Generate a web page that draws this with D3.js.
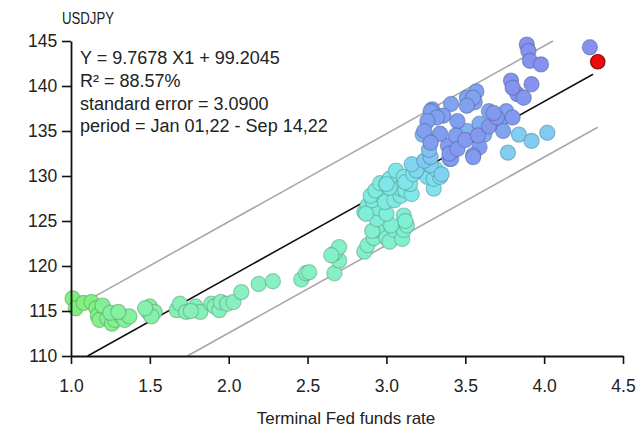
<!DOCTYPE html>
<html>
<head>
<meta charset="utf-8">
<script src="https://cdn.jsdelivr.net/npm/d3@7"></script>
<style>
  body { margin: 0; background: #fff; }
  svg { display: block; font-family: "Liberation Sans", Arial, sans-serif; }
</style>
</head>
<body>
<svg id="chart" width="641" height="433"></svg>
<script>
// USDJPY vs terminal Fed funds rate, daily, Jan-Sep 2022

var xTicks = [1.0, 1.5, 2.0, 2.5, 3.0, 3.5, 4.0, 4.5],
    yTicks = [110, 115, 120, 125, 130, 135, 140, 145];

// regression stats shown in the box
var slope = 9.7678, intercept = 99.2045, stdErr = 3.09;
var statLines = [
  "Y = 9.7678 X1 + 99.2045",
  "R\u00b2 = 88.57%",
  "standard error = 3.0900",
  "period = Jan 01,22 - Sep 14,22"
];

// [fed funds terminal rate, usdjpy, day of year]
var points = [
  [1.01,116.4,3],[1.03,115.3,5],[1.08,115.9,7],[1.13,116.0,10],[1.16,115.3,12],[1.17,114.5,14],
  [1.18,114.0,18],[1.23,114.2,20],[1.26,113.6,24],[1.28,114.0,26],[1.20,115.6,28],
  [1.32,114.4,33],[1.34,114.0,35],[1.37,114.4,38],[1.25,114.8,40],[1.30,114.9,42],[1.49,114.9,45],
  [1.50,115.5,47],[1.53,114.9,49],[1.51,114.4,52],[1.47,115.3,55],
  [1.67,115.1,60],[1.69,115.8,62],[1.73,114.9,63],[1.79,115.5,64],[1.82,114.9,66],[1.76,115.0,67],
  [1.89,115.8,69],[1.91,115.5,70],[1.94,115.1,71],[1.95,116.0,73],[1.99,115.8,74],[2.03,116.0,75],
  [2.08,117.1,76],
  [2.19,118.0,77],[2.28,118.3,78],[2.46,118.5,81],[2.49,119.2,82],[2.51,119.3,83],[2.67,119.2,84],
  [2.70,120.6,85],[2.67,121.4,87],[2.70,122.1,88],[2.65,121.2,89],
  [2.86,121.6,91],[2.88,122.3,92],[2.92,123.1,95],[2.94,124.0,96],[2.91,123.9,97],[3.00,123.1,98],
  [3.02,122.7,99],[3.05,124.0,102],[3.10,123.0,103],[3.11,124.0,104],[3.13,124.5,105],[3.11,125.6,106],
  [3.03,124.5,109],[3.12,125.0,110],[2.86,126.0,111],[2.88,126.7,112],[2.94,125.2,113],[2.95,126.4,116],
  [3.00,125.8,117],[2.87,125.8,118],[2.91,127.3,119],[2.94,128.0,120],
  [2.90,127.8,123],[2.93,128.4,124],[2.96,129.2,125],[3.00,129.1,126],[3.02,129.7,127],[2.99,127.1,130],
  [3.05,127.3,131],[3.09,127.8,132],[3.09,128.6,133],[3.12,128.4,134],[3.16,128.0,137],[3.15,129.1,138],
  [3.02,128.7,139],[3.06,130.6,140],[3.11,129.9,141],[3.12,129.3,144],[3.00,129.1,145],[3.17,130.2,146],
  [3.18,131.1,147],[3.21,130.6,148],[3.30,128.6,151],
  [3.26,129.9,152],[3.30,129.7,153],[3.34,129.9,154],[3.31,130.8,155],[3.26,131.3,158],[3.19,130.6,159],
  [3.16,131.3,160],[3.28,131.2,161],[3.35,130.2,162],
  [3.77,132.6,164],[3.84,134.6,165],[3.92,133.9,166],[4.02,134.8,167],
  [3.24,131.7,168],[3.28,132.1,171],[3.27,132.9,172],[3.40,131.9,173],[3.28,133.9,174],[3.23,134.6,175],
  [3.45,134.5,178],[3.51,135.0,179],[3.62,134.6,180],[3.59,135.8,181],
  [3.72,136.1,182],[3.74,135.0,185],[3.65,137.2,186],[3.76,137.2,187],[3.57,139.4,188],[3.51,138.7,189],
  [3.56,138.2,192],[3.41,138.0,193],[3.55,138.7,194],[3.51,137.8,195],[3.29,137.4,196],[3.28,137.2,199],
  [3.36,136.7,200],[3.32,136.5,201],[3.45,136.1,202],[3.26,136.1,203],[3.24,135.0,206],[3.39,133.4,207],
  [3.44,134.5,208],[3.34,134.7,209],
  [3.28,133.7,213],[3.41,131.9,214],[3.59,133.2,215],[3.55,132.3,216],[3.55,132.1,217],[3.40,132.5,220],
  [3.45,133.0,221],[3.50,134.0,222],[3.58,134.5,223],[3.65,135.5,227],[3.70,136.5,228],[3.68,137.0,229],
  [3.80,136.5,230],[3.83,139.1,234],[3.87,138.7,235],
  [3.79,140.6,244],[3.80,139.8,245],[3.92,140.2,246],[3.89,144.6,249],[3.90,143.9,250],[3.91,142.8,251],
  [3.98,142.4,252],[4.29,144.3,255]
];
var latest = [4.34, 142.7];

var svg = d3.select("#chart");
var narrow = "'Liberation Sans Narrow', 'Arial Narrow', 'Liberation Sans', sans-serif";

var x = d3.scaleLinear().domain([1.0, 4.5]).range([71, 623]);
var y = d3.scaleLinear().domain([110, 145]).range([356, 41]);

var color = d3.scaleLinear()
    .domain([1, 45, 75, 110, 150, 170, 185, 257])
    .range(["#80f07c", "#86f0a4", "#88f0c0", "#80f0d4", "#80e4ee", "#80c6f2", "#7fa4f0", "#8690ef"]);

// bands and fit
var bandTop = function(v) { return slope * v + intercept + 2 * stdErr; },
    bandBot = function(v) { return slope * v + intercept - 2 * stdErr; },
    fit = function(v) { return slope * v + intercept; };

var x0fit = (110 - intercept) / slope;
var x1top = (145 - intercept - 2 * stdErr) / slope;
var x0bot = (110 - intercept + 2 * stdErr) / slope;

var lines = [
  {a: [1.12, bandTop(1.12)], b: [x1top, 145], c: "#a8a8a8"},
  {a: [x0bot, 110], b: [latest[0], bandBot(latest[0])], c: "#a8a8a8"},
  {a: [x0fit, 110], b: [latest[0] - 0.03, fit(latest[0] - 0.03)], c: "#111"}
];

svg.append("g").selectAll("line")
  .data(lines)
  .enter().append("line")
    .attr("x1", function(d) { return x(d.a[0]); })
    .attr("y1", function(d) { return y(d.a[1]); })
    .attr("x2", function(d) { return x(d.b[0]); })
    .attr("y2", function(d) { return y(d.b[1]); })
    .attr("stroke", function(d) { return d.c; })
    .attr("stroke-width", 1.6);

svg.append("g").selectAll("circle")
  .data(points)
  .enter().append("circle")
    .attr("cx", function(d) { return x(d[0]); })
    .attr("cy", function(d) { return y(d[1]); })
    .attr("r", 7.6)
    .attr("fill", function(d) { return color(d[2]); })
    .attr("stroke", function(d) { return d3.color(color(d[2])).darker(1.1); })
    .attr("stroke-opacity", 0.55)
    .attr("stroke-width", 1.2);

svg.append("circle")
    .attr("cx", x(latest[0]))
    .attr("cy", y(latest[1]))
    .attr("r", 7.2)
    .attr("fill", "#ee0a0a")
    .attr("stroke", "#8a1010")
    .attr("stroke-width", 1.2);

// axes
var xAxis = svg.append("g")
    .attr("transform", "translate(0," + y(110) + ")")
    .call(d3.axisBottom(x).tickValues(xTicks).tickFormat(d3.format(".1f")).tickSize(8).tickSizeOuter(0));

var yAxis = svg.append("g")
    .attr("transform", "translate(" + x(1.0) + ",0)")
    .call(d3.axisLeft(y).tickValues(yTicks).tickSize(9).tickSizeOuter(0));

[xAxis, yAxis].forEach(function(g) {
  g.select(".domain").attr("stroke", "#111").attr("stroke-width", 1.8);
  g.selectAll(".tick line").attr("stroke", "#111").attr("stroke-width", 1.6);
  g.selectAll(".tick text")
    .attr("fill", "#222")
    .attr("font-size", 17.5)
    .attr("font-family", narrow);
});
xAxis.selectAll(".tick text").attr("dy", "1.45em");
yAxis.selectAll(".tick text").attr("dx", "-0.1em");

svg.append("text")
    .attr("x", 346)
    .attr("y", 424)
    .attr("text-anchor", "middle")
    .attr("font-size", 17)
    .attr("font-family", narrow)
    .attr("fill", "#222")
    .text("Terminal Fed funds rate");

svg.append("text")
    .attr("x", 62)
    .attr("y", 24)
    .attr("font-size", 16)
    .attr("textLength", 52)
    .attr("lengthAdjust", "spacingAndGlyphs")
    .attr("font-family", narrow)
    .attr("fill", "#222")
    .text("USDJPY");

svg.append("g").selectAll("text")
  .data(statLines)
  .enter().append("text")
    .attr("x", 80)
    .attr("y", function(d, i) { return 64 + i * 22.8; })
    .attr("font-size", 18)
    .attr("font-family", narrow)
    .attr("fill", "#222")
    .text(function(d) { return d; });
</script>
</body>
</html>
